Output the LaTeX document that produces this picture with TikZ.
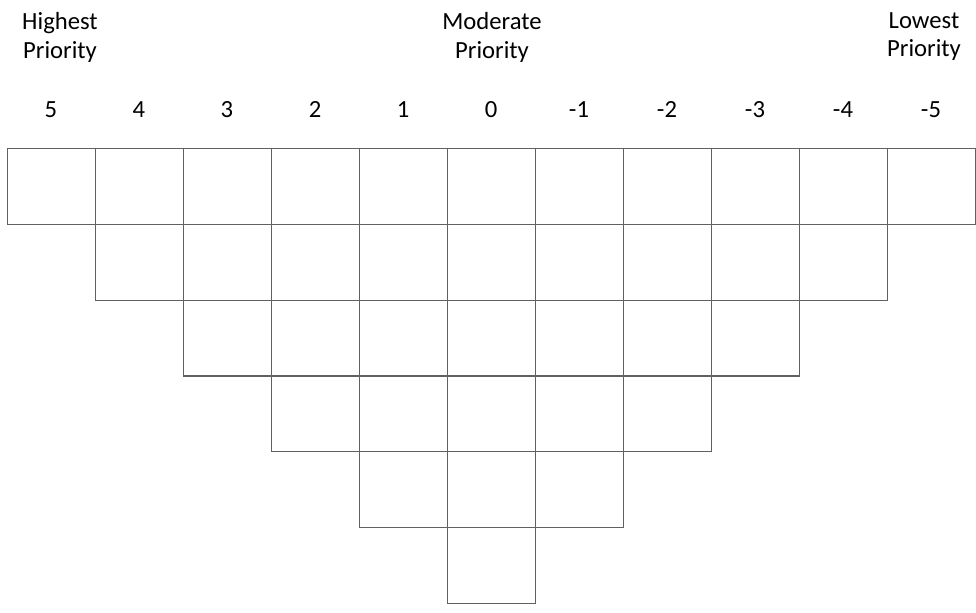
\documentclass[tikz,border=0pt]{standalone}
\usepackage{fontspec}
\setmainfont{Carlito}
\usetikzlibrary{positioning}

\begin{document}
\begin{tikzpicture}[
  x=0.75pt, y=-0.75pt,
  font=\fontsize{18.5}{21.5}\selectfont,
  cell/.style={draw=black!62, line width=0.8pt, rectangle, minimum width=66pt, minimum height=56.87pt, inner sep=0pt, anchor=north west},
  head/.style={align=center, anchor=north, inner sep=0pt},
  rank/.style={anchor=base, inner sep=0pt}
]
\useasboundingbox (0,0) rectangle (976,613);

% headings
\node[head] (hi) at (60,12) {Highest\\Priority};
\node[head] (mid) at (492,12) {Moderate\\Priority};
\node[head] (lo) at (924,12) {Lowest\\Priority};

% columns of the grid, one rank each
\foreach \v [count=\i from 0] in {5,4,3,2,1,0,-1,-2,-3,-4,-5} {
  \pgfmathtruncatemacro{\h}{6-abs(\v)}
  \node[rank] (n\i) at ({51+88*\i},118) {\v};
  \foreach \r in {1,...,\h}
    \node[cell] (c\i-\r) at ({7+88*\i},{148+75.83*(\r-1)}) {};
}
\end{tikzpicture}
\end{document}
